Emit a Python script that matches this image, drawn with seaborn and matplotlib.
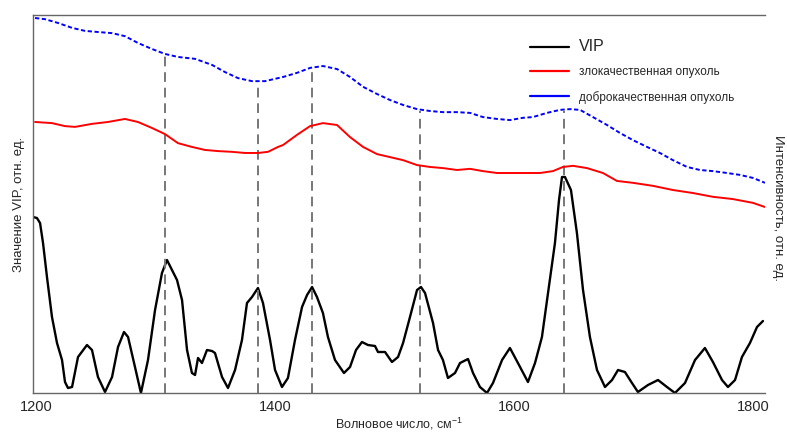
import numpy as np
import pandas as pd
import matplotlib
matplotlib.use("Agg")
import matplotlib.pyplot as plt
from matplotlib.lines import Line2D
import seaborn as sns

# ---- data ----
wn_benign = [1198.7, 1207.0, 1217.9, 1229.7, 1240.5, 1251.4, 1263.2, 1274.0, 1284.9, 1296.7,
             1307.5, 1318.4, 1332.7, 1346.9, 1357.8, 1368.7, 1380.4, 1391.3, 1402.2, 1406.4,
             1418.1, 1429.0, 1439.8, 1451.6, 1462.5, 1473.4, 1485.1, 1496.0, 1506.9, 1518.6,
             1529.4, 1540.3, 1552.1, 1563.0, 1573.8, 1585.6, 1596.4, 1607.3, 1615.7, 1627.4,
             1638.3, 1646.7, 1655.1, 1665.9, 1677.7, 1688.5, 1699.4, 1711.2, 1722.0, 1732.9,
             1744.7, 1755.5, 1766.4, 1778.2, 1789.0, 1799.9, 1810.0]
benign = [0.992, 0.989, 0.979, 0.966, 0.958, 0.955, 0.952, 0.944, 0.926, 0.910,
          0.897, 0.889, 0.884, 0.868, 0.849, 0.833, 0.825, 0.825, 0.833, 0.836,
          0.847, 0.860, 0.865, 0.857, 0.836, 0.810, 0.791, 0.775, 0.762, 0.751,
          0.746, 0.743, 0.743, 0.741, 0.730, 0.725, 0.722, 0.728, 0.730, 0.741,
          0.749, 0.751, 0.749, 0.730, 0.709, 0.688, 0.669, 0.651, 0.635, 0.616,
          0.598, 0.590, 0.587, 0.582, 0.577, 0.569, 0.556]

wn_malignant = [1198.7, 1212.9, 1223.8, 1232.2, 1246.4, 1259.8, 1274.0, 1284.9, 1296.7, 1307.5,
                1318.4, 1330.1, 1341.0, 1351.9, 1363.6, 1374.5, 1385.4, 1393.8, 1402.2, 1406.4,
                1418.1, 1429.0, 1439.8, 1451.6, 1462.5, 1473.4, 1485.1, 1496.0, 1506.9, 1518.6,
                1529.4, 1540.3, 1552.1, 1563.0, 1573.8, 1585.6, 1596.4, 1607.3, 1621.6, 1632.4,
                1640.8, 1649.2, 1660.9, 1674.3, 1686.0, 1699.4, 1716.2, 1732.9, 1749.7, 1766.4,
                1783.2, 1799.9, 1810.0]
malignant = [0.717, 0.714, 0.706, 0.704, 0.712, 0.717, 0.725, 0.717, 0.701, 0.685,
             0.661, 0.651, 0.643, 0.640, 0.638, 0.635, 0.635, 0.638, 0.651, 0.656,
             0.683, 0.706, 0.714, 0.709, 0.677, 0.651, 0.632, 0.624, 0.616, 0.603,
             0.598, 0.595, 0.590, 0.593, 0.587, 0.582, 0.582, 0.582, 0.582, 0.587,
             0.598, 0.601, 0.595, 0.582, 0.561, 0.556, 0.548, 0.537, 0.529, 0.519,
             0.513, 0.503, 0.492]

wn_vip = [1197.0, 1200.3, 1202.9, 1205.4, 1208.7, 1212.9, 1217.1, 1221.3, 1223.8, 1226.3,
          1229.7, 1234.7, 1242.2, 1246.4, 1251.4, 1257.3, 1263.2, 1268.2, 1273.2, 1276.6,
          1282.4, 1287.4, 1293.3, 1299.2, 1305.0, 1309.2, 1313.4, 1317.6, 1321.8, 1326.0,
          1330.1, 1332.7, 1335.2, 1338.5, 1342.7, 1346.9, 1349.4, 1355.3, 1360.3, 1366.2,
          1372.0, 1376.2, 1380.4, 1385.4, 1389.6, 1395.5, 1399.7, 1405.5, 1410.5, 1416.4,
          1422.3, 1426.5, 1430.7, 1434.8, 1439.8, 1444.0, 1449.9, 1457.4, 1462.5, 1467.5,
          1472.5, 1477.5, 1483.4, 1485.9, 1491.8, 1497.6, 1502.7, 1506.9, 1512.7, 1518.6,
          1521.9, 1525.3, 1532.0, 1536.2, 1540.3, 1544.5, 1550.4, 1554.6, 1561.3, 1565.5,
          1571.3, 1577.2, 1582.2, 1589.8, 1596.4, 1603.1, 1611.5, 1617.4, 1623.2, 1628.3,
          1634.1, 1637.5, 1640.0, 1642.5, 1647.5, 1652.5, 1657.6, 1663.4, 1669.3, 1676.0,
          1681.9, 1686.9, 1692.7, 1698.6, 1703.6, 1712.0, 1720.4, 1727.9, 1734.6, 1743.0,
          1751.4, 1759.7, 1766.4, 1774.0, 1779.0, 1784.9, 1790.7, 1797.4, 1803.3, 1808.3]
vip = [1.76, 1.75, 1.70, 1.50, 1.16, 0.76, 0.50, 0.33, 0.11, 0.05,
       0.06, 0.36, 0.48, 0.43, 0.16, 0.01, 0.16, 0.46, 0.61, 0.56,
       0.26, 0.00, 0.33, 0.83, 1.20, 1.33, 1.23, 1.13, 0.93, 0.43,
       0.20, 0.18, 0.35, 0.30, 0.43, 0.42, 0.40, 0.16, 0.05, 0.23,
       0.53, 0.90, 0.96, 1.05, 0.90, 0.53, 0.23, 0.06, 0.15, 0.53,
       0.86, 0.98, 1.06, 0.96, 0.80, 0.56, 0.33, 0.20, 0.26, 0.43,
       0.51, 0.48, 0.47, 0.41, 0.41, 0.31, 0.36, 0.50, 0.76, 1.03,
       1.06, 1.00, 0.70, 0.43, 0.33, 0.15, 0.20, 0.30, 0.34, 0.20,
       0.06, 0.00, 0.10, 0.33, 0.45, 0.30, 0.11, 0.30, 0.56, 1.00,
       1.50, 1.93, 2.16, 2.16, 2.03, 1.60, 1.03, 0.56, 0.23, 0.06,
       0.13, 0.23, 0.21, 0.10, 0.01, 0.08, 0.13, 0.06, 0.00, 0.10,
       0.33, 0.45, 0.31, 0.13, 0.06, 0.13, 0.36, 0.50, 0.66, 0.72]

peaks = [1307.5, 1385.4, 1430.7, 1521.1, 1641.7]
xticks = [1200, 1400, 1600, 1800]

labels = ["VIP", "злокачественная опухоль", "доброкачественная опухоль"]

# ---- figure ----
sns.set_style("white")
plt.rcParams["font.family"] = ["Liberation Sans", "DejaVu Sans"]
plt.rcParams["mathtext.default"] = "regular"

fig = plt.figure(figsize=(7.87, 4.34), dpi=100)
ax = fig.add_axes([33 / 787, 1 - 393 / 434, 732 / 787, 378 / 434])
ax2 = ax.twinx()

sns.lineplot(x=wn_vip, y=vip, ax=ax, color="black", lw=1.7, sort=False)
sns.lineplot(x=wn_malignant, y=malignant, ax=ax2, color="#ff0000", lw=1.4, sort=False)
sns.lineplot(x=wn_benign, y=benign, ax=ax2, color="#0000ff", lw=1.4, sort=False,
             linestyle=(0, (2.2, 1.3)))

# dashed markers from the axis up to the benign spectrum
tops = np.interp(peaks, wn_benign, benign) - 0.005
ax2.vlines(peaks, 0, tops, colors="#777777", linestyles=(0, (5, 3)), lw=1.4, zorder=0)

ax.set_xlim(1197, 1810)
ax.set_ylim(0, 3.78)
ax2.set_ylim(0, 1)
ax.set_xticks(xticks)
ax.set_xticklabels([str(t) for t in xticks], fontsize=10.5)
ax.tick_params(axis="x", length=0, pad=5)
ax.set_yticks([])
ax2.set_yticks([])

for a in (ax, ax2):
    for s in a.spines.values():
        s.set_color("#666666")
        s.set_linewidth(1.0)
ax.spines["right"].set_visible(False)
ax2.spines["right"].set_visible(False)
ax2.spines["left"].set_visible(False)
ax2.spines["bottom"].set_visible(False)
ax2.spines["top"].set_visible(False)

ax.set_xlabel("Волновое число, см$^{-1}$", fontsize=9, labelpad=1)
ax.set_ylabel("Значение VIP, отн. ед.", fontsize=9.5, labelpad=6)
fig.text(0.988, 0.52, "Интенсивность, отн. ед.", rotation=-90, fontsize=9.5,
         ha="center", va="center")

handles = [Line2D([0], [0], color=c, lw=1.6) for c in ["black", "#ff0000", "#0000ff"]]
leg = ax.legend(handles, labels, loc="upper left", bbox_to_anchor=(0.665, 0.965),
                frameon=False, fontsize=8.5, handlelength=3.3, labelspacing=1.05,
                handletextpad=0.8)
leg.get_texts()[0].set_fontsize(11.5)

fig.savefig("out.png", dpi=100)
